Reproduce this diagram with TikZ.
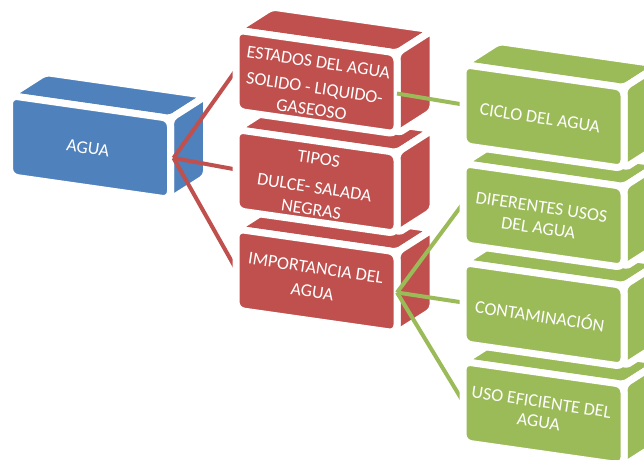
\documentclass[tikz,border=0pt]{standalone}
\usepackage{fontspec}
\setmainfont{Carlito}
\usetikzlibrary{calc}
\definecolor{cblue}{HTML}{4F81BD}
\definecolor{cred}{HTML}{C0504D}
\definecolor{cgreen}{HTML}{9BBB59}
\def\cbW{161}
\def\cbH{81}
\def\cbD{23}
\def\cbX{36}
\def\cbY{-23}
\newcommand{\cubebox}[3]{%
  \coordinate (#1-tl) at #2;
  \coordinate (#1-tr) at ($(#1-tl)+(\cbW,\cbD)$);
  \coordinate (#1-bl) at ($(#1-tl)+(0,\cbH)$);
  \coordinate (#1-br) at ($(#1-tr)+(0,\cbH)$);
  \path[face,fill=#3] (#1-tl) -- (#1-tr) -- ($(#1-tr)+(\cbX,\cbY)$) -- ($(#1-tl)+(\cbX,\cbY)$) -- cycle;
  \path[face,fill=#3] (#1-tr) -- ($(#1-tr)+(\cbX,\cbY)$) -- ($(#1-br)+(\cbX,\cbY)$) -- (#1-br) -- cycle;
  \path[face,fill=#3,rounded corners=8pt] (#1-tl) -- (#1-tr) -- (#1-br) -- (#1-bl) -- cycle;
  \coordinate (#1-l) at ($(#1-tl)!0.5!(#1-bl)$);
  \coordinate (#1-r) at ($(#1-tr)!0.5!(#1-br)$);
}
\tikzset{
  face/.style={draw=white, line width=7pt, rounded corners=5pt, line join=round},
  lbl/.style={text=white, font=\fontsize{18}{22}\selectfont, align=center, rotate=-8.5, inner sep=0pt},
  redline/.style={draw=cred, line width=4pt},
  greenline/.style={draw=cgreen, line width=4pt}
}
\begin{document}
\begin{tikzpicture}[x=1pt,y=-1pt]
\useasboundingbox (0,0) rectangle (644,459);
\clip (0,0) rectangle (644,459);
% blue box
\cubebox{agua}{(9.5,95.5)}{cblue}
\node[lbl] (t-agua) at (88,148) {AGUA};
% red connectors
\coordinate (r1-lc) at (236,70);
\coordinate (r2-lc) at (236,169.5);
\coordinate (r3-lc) at (236,269);
\coordinate (agua-c) at ($(agua-r)+(3,-1)$);
\draw[redline] (agua-c) -- (r1-lc);
\draw[redline] (agua-c) -- (r2-lc);
\draw[redline] (agua-c) -- (r3-lc);
% red boxes
\cubebox{r3}{(236,229)}{cred}
\cubebox{r2}{(236,129.5)}{cred}
\cubebox{r1}{(236,30)}{cred}
\node[lbl] (t-r1) at (315,86) {ESTADOS DEL AGUA\\[4pt]SOLIDO - LIQUIDO-\\GASEOSO};
\node[lbl] (t-r2) at (315,184) {TIPOS\\[7pt]DULCE- SALADA\\NEGRAS};
\node[lbl] (t-r3) at (314,280) {IMPORTANCIA DEL\\[2pt]AGUA};
% green connectors
\coordinate (g1-lc) at (463,104.5);
\coordinate (g2-lc) at (463,203.5);
\coordinate (g3-lc) at (463,302.5);
\coordinate (g4-lc) at (463,401.5);
\draw[greenline] (r1-r) -- (g1-lc);
\draw[greenline] (r3-r) -- (g2-lc);
\draw[greenline] (r3-r) -- (g3-lc);
\draw[greenline] (r3-r) -- (g4-lc);
% green boxes
\cubebox{g4}{(463,361.5)}{cgreen}
\cubebox{g3}{(463,262.5)}{cgreen}
\cubebox{g2}{(463,163.5)}{cgreen}
\cubebox{g1}{(463,64.5)}{cgreen}
\node[lbl] (t-g1) at (540,118) {CICLO DEL AGUA};
\node[lbl] (t-g2) at (540,217.5) {DIFERENTES USOS\\[-1pt]DEL AGUA};
\node[lbl] (t-g3) at (540,315) {CONTAMINACIÓN};
\node[lbl] (t-g4) at (540,412) {USO EFICIENTE DEL\\[-2pt]AGUA};
\end{tikzpicture}
\end{document}
